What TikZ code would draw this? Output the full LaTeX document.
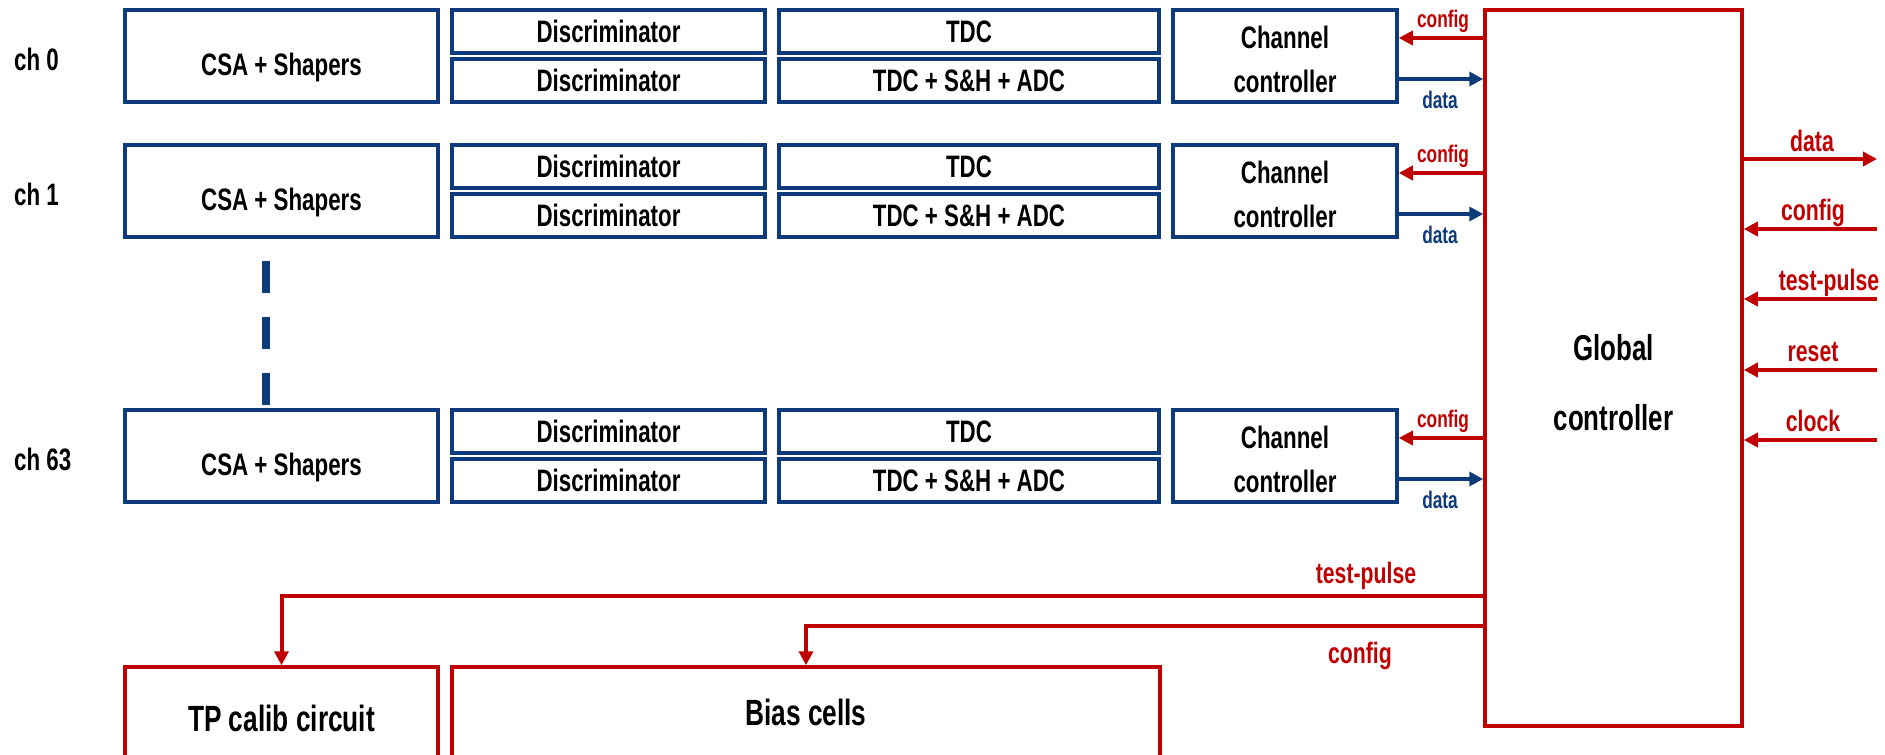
\documentclass[tikz,border=0pt]{standalone}
\usepackage{fontspec}
\setmainfont{Liberation Sans}[FakeStretch=0.72]
\usetikzlibrary{arrows.meta}
\definecolor{chipblue}{RGB}{12,58,122}
\definecolor{chipred}{RGB}{192,0,0}
\newcommand{\setfs}[2]{\fontsize{#1pt}{#2pt}\selectfont\bfseries}

\begin{document}
\begin{tikzpicture}[x=1pt,y=-1pt,
  bluebox/.style={draw=chipblue, line width=3.5pt, inner sep=0pt, text depth=0pt, font={\setfs{31}{36}}},
  redbox/.style={draw=chipred, line width=3.5pt, inner sep=0pt},
  boxtext/.style={inner sep=0pt, text depth=0pt, align=center},
  tiphead/.style={-{Triangle[length=14pt,width=14pt]}},
  redwire/.style={draw=chipred, line width=4pt, tiphead},
  bluewire/.style={draw=chipblue, line width=4pt, tiphead},
  redlbl/.style={text=chipred, inner sep=0pt, anchor=base},
  bluelbl/.style={text=chipblue, inner sep=0pt, anchor=base},
  chlbl/.style={inner sep=0pt, anchor=base west, font={\setfs{31}{36}}},
]
\useasboundingbox (0,0) rectangle (1885,755);
\clip (0,0) rectangle (1885,755);

% global controller
\node[redbox, minimum width=257pt, minimum height=716pt] (glob) at (1613.5,368) {};
\node[boxtext, font={\setfs{36}{70}}] (globtxt) at (1613.5,382.5) {Global\\controller};

% channel rows
\foreach \r/\t/\lab in {0/10/ch 0, 1/145/ch 1, 63/410/ch 63} {
  \node[chlbl] (ch\r) at (14,\t+60) {\lab};
  \node[bluebox, minimum width=313pt, minimum height=92pt] (csa\r) at (281.5,\t+46) {};
  \node[boxtext, font={\setfs{31}{36}}] (csatxt\r) at (281.5,\t+54) {CSA + Shapers};
  \node[bluebox, minimum width=313pt, minimum height=43pt] (disca\r) at (608.5,\t+21.5) {Discriminator};
  \node[bluebox, minimum width=313pt, minimum height=43pt] (discb\r) at (608.5,\t+70.5) {Discriminator};
  \node[bluebox, minimum width=380pt, minimum height=43pt] (tdca\r) at (969,\t+21.5) {TDC};
  \node[bluebox, minimum width=380pt, minimum height=43pt] (tdcb\r) at (969,\t+70.5) {TDC + S\&H + ADC};
  \node[bluebox, minimum width=224pt, minimum height=92pt] (chan\r) at (1285,\t+46) {};
  \node[boxtext, font={\setfs{31}{44}}] (chantxt\r) at (1285,\t+49) {Channel\\controller};
  \draw[redwire] (glob.west |- 0,\t+28) -- (chan\r.east |- 0,\t+28);
  \draw[bluewire] (chan\r.east |- 0,\t+69) -- (glob.west |- 0,\t+69);
  \node[redlbl, font={\setfs{24}{28}}] (cfglbl\r) at (1443,\t+17) {config};
  \node[bluelbl, font={\setfs{24}{28}}] (datalbl\r) at (1440,\t+98) {data};
}

% channels in between
\draw[draw=chipblue, line width=8pt, dash pattern=on 32pt off 24pt] (csa1.south -| 266,0) ++(0,22) -- (csa63.north -| 266,0);

% external interface of the global controller
\coordinate (outdata) at (1877,159);
\draw[redwire] (glob.east |- outdata) -- (outdata);
\node[redlbl, font={\setfs{29.5}{34}}] (odlbl) at (1812,151) {data};
\foreach \n/\y/\txt/\cx in {cfg/229/config/1813, tp/299/test-pulse/1829, rst/370/reset/1813, clk/440/clock/1813} {
  \coordinate (in\n) at (1877,\y);
  \draw[redwire] (in\n) -- (glob.east |- in\n);
  \node[redlbl, font={\setfs{29.5}{34}}] (in\n lbl) at (\cx,\y-9) {\txt};
}

% calibration and bias blocks
\node[redbox, minimum width=313pt, minimum height=133pt] (tpc) at (281.5,733.5) {};
\node[boxtext, font={\setfs{36.5}{40}}] (tpctxt) at (281.5,718) {TP calib circuit};
\node[redbox, minimum width=708pt, minimum height=133pt] (bias) at (806,733.5) {};
\node[boxtext, font={\setfs{36.5}{40}}] (biastxt) at (806,712) {Bias cells};

\draw[redwire] (glob.west |- 0,596) -| (tpc.north);
\draw[redwire] (glob.west |- 0,626) -| (bias.north);
\node[redlbl, font={\setfs{29.5}{34}}] (tplbl) at (1366,583) {test-pulse};
\node[redlbl, font={\setfs{29.5}{34}}] (cfgblbl) at (1360,663) {config};
\end{tikzpicture}
\end{document}
